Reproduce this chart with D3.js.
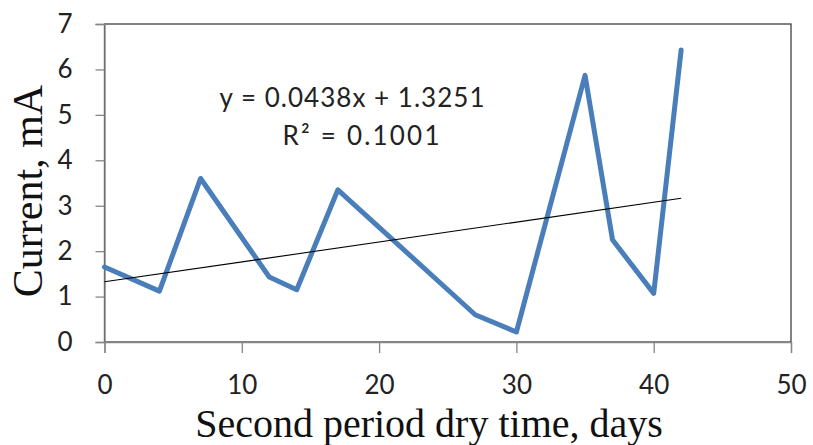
<!DOCTYPE html>
<html>
<head>
<meta charset="utf-8">
<script src="https://cdn.jsdelivr.net/npm/d3@7"></script>
<style>
  body { margin: 0; background: #fff; }
  svg { display: block; }
</style>
</head>
<body>
<svg id="chart"></svg>
<script>
// data
const days    = [0, 4, 7, 12, 14, 17, 25, 27, 30, 35, 37, 40, 42];
const current = [1.65, 1.12, 3.6, 1.43, 1.15, 3.35, 1.15, 0.6, 0.22, 5.87, 2.25, 1.07, 6.43];
const trendSlope = 0.0438;
const trendIntercept = 1.3251;
const trendLabel = ["y = 0.0438x + 1.3251", "R² = 0.1001"];
const xTicks = [0, 10, 20, 30, 40, 50];
const yTicks = [0, 1, 2, 3, 4, 5, 6, 7];

const width = 813, height = 445;
const margin = { top: 24, right: 22, bottom: 103, left: 104.5 };
const sansFont = "Lato, 'Open Sans', sans-serif";
const serifFont = "'Liberation Serif', 'Times New Roman', serif";

const svg = d3.select("#chart")
  .attr("width", width)
  .attr("height", height);

const x = d3.scaleLinear().domain([0, 50]).range([margin.left, width - margin.right]);
const y = d3.scaleLinear().domain([0, 7]).range([height - margin.bottom, margin.top]);

// plot area frame (top/right darker)
svg.append("rect")
  .attr("x", x(0))
  .attr("y", y(7))
  .attr("width", x(50) - x(0))
  .attr("height", y(0) - y(7))
  .attr("fill", "none")
  .attr("stroke", "#404040")
  .attr("stroke-width", 1.3);

// axes
const xAxis = svg.append("g")
  .attr("transform", `translate(0,${y(0)})`)
  .call(d3.axisBottom(x).tickValues(xTicks).tickSize(11).tickPadding(23).tickFormat(d3.format("d")));

const yAxis = svg.append("g")
  .attr("transform", `translate(${x(0)},0)`)
  .call(d3.axisLeft(y).tickValues(yTicks).tickSize(9).tickPadding(23).tickFormat(d3.format("d")));

[xAxis, yAxis].forEach(ax => {
  ax.attr("font-size", 26).attr("font-family", sansFont);
  ax.select(".domain").attr("stroke", "#868686").attr("stroke-width", 1.3);
  ax.selectAll(".tick line").attr("stroke", "#868686").attr("stroke-width", 1.3);
  ax.selectAll(".tick text").attr("fill", "#222");
});

// series
const pts = days.map((d, i) => [d, current[i]]);
svg.append("path")
  .datum(pts)
  .attr("fill", "none")
  .attr("stroke", "#4a7ebb")
  .attr("stroke-width", 5)
  .attr("stroke-linejoin", "round")
  .attr("stroke-linecap", "round")
  .attr("d", d3.line().x(d => x(d[0])).y(d => y(d[1])));

// linear trendline
const trendX = [d3.min(days), d3.max(days)];
svg.append("path")
  .datum(trendX.map(d => [d, trendSlope * d + trendIntercept]))
  .attr("fill", "none")
  .attr("stroke", "#000")
  .attr("stroke-width", 1.1)
  .attr("d", d3.line().x(d => x(d[0])).y(d => y(d[1])));

// equation label, two lines stretched like the original
const eqLayout = [
  { cx: 352, base: 107, len: 265 },
  { cx: 361, base: 145, len: 157 }
];
svg.append("g")
  .selectAll("text")
  .data(trendLabel)
  .join("text")
  .attr("x", (d, i) => eqLayout[i].cx)
  .attr("y", (d, i) => eqLayout[i].base)
  .attr("text-anchor", "middle")
  .attr("font-family", sansFont)
  .attr("font-size", 26)
  .attr("fill", "#222")
  .attr("textLength", (d, i) => eqLayout[i].len)
  .attr("lengthAdjust", "spacing")
  .text(d => d);

// axis titles
svg.append("text")
  .attr("x", 429)
  .attr("y", 437)
  .attr("text-anchor", "middle")
  .attr("font-family", serifFont)
  .attr("font-size", 40)
  .attr("fill", "#111")
  .text("Second period dry time, days");

svg.append("text")
  .attr("transform", "translate(42,191) rotate(-90)")
  .attr("text-anchor", "middle")
  .attr("font-family", serifFont)
  .attr("font-size", 42)
  .attr("fill", "#111")
  .text("Current, mA");
</script>
</body>
</html>
